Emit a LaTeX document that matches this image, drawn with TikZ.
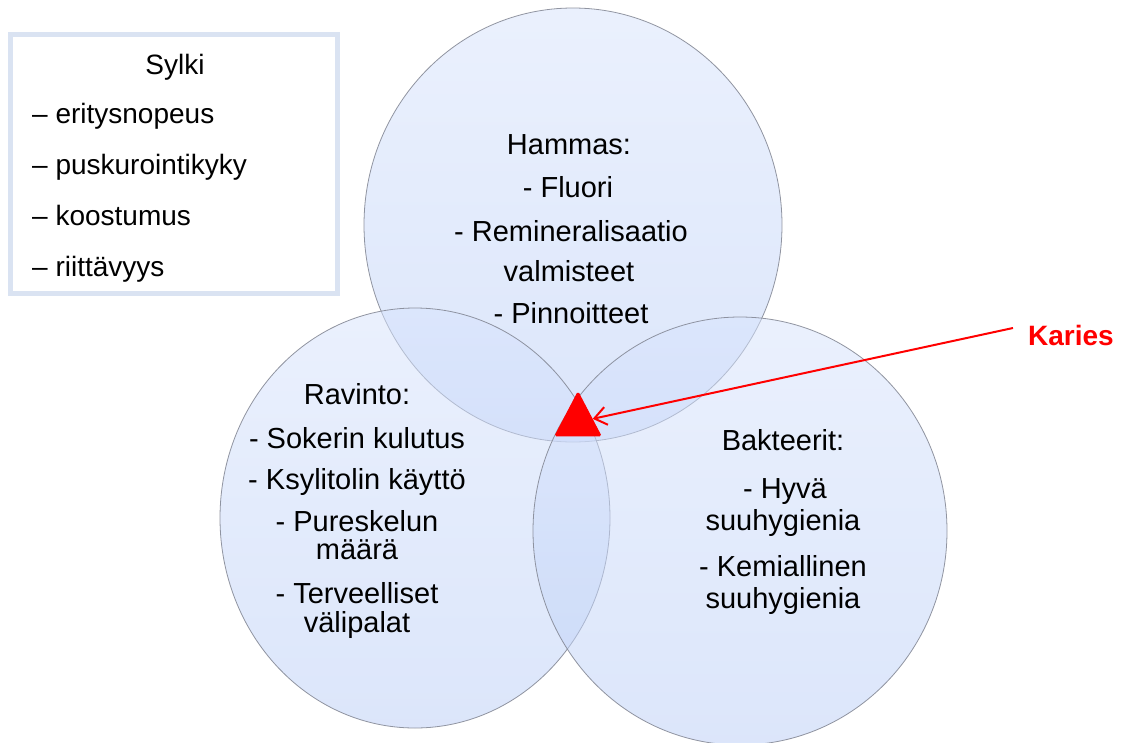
\documentclass[tikz,border=0pt]{standalone}
\usepackage{fontspec}
\setmainfont{Liberation Sans}
\usetikzlibrary{shapes.geometric,arrows.meta}
\definecolor{vennTop}{RGB}{216,228,253}
\definecolor{vennBot}{RGB}{188,207,247}
\definecolor{vennLine}{RGB}{128,132,145}
\definecolor{boxLine}{RGB}{218,227,242}
\definecolor{kred}{RGB}{255,0,0}
\tikzset{
  venn/.style={ellipse, draw=vennLine, line width=0.8pt, top color=vennTop, bottom color=vennBot,
    fill opacity=0.52, draw opacity=0.85, inner sep=0},
  ctext/.style={anchor=base, font=\fontsize{29}{35}\selectfont, text=black, inner sep=0},
  ltext/.style={anchor=base west, font=\fontsize{28}{34}\selectfont, text=black, inner sep=0},
  legendbox/.style={draw=boxLine, line width=5pt, fill=white},
}
\begin{document}
\begin{tikzpicture}[x=1pt,y=-1pt]
\useasboundingbox[fill=white] (0,0) rectangle (1126,742);

% legend box
\node[legendbox, minimum width=327pt, minimum height=259pt, inner sep=0] (legend) at (174,164) {};
\node[ctext, font=\fontsize{28}{34}\selectfont] (sylki) at (175,74) {Sylki};
\node[ltext] (s1) at (32,123) {– eritysnopeus};
\node[ltext] (s2) at (32,174) {– puskurointikyky};
\node[ltext] (s3) at (32,225) {– koostumus};
\node[ltext] (s4) at (32,276) {– riittävyys};

% circles
\node[venn, minimum width=418pt, minimum height=434pt] (hammas) at (573,225) {};
\node[venn, minimum width=390pt, minimum height=420pt] (ravinto) at (415,518) {};
\node[venn, minimum width=414pt, minimum height=428pt] (bakteerit) at (740,531) {};

% top circle text
\node[ctext] (h0) at (569,154) {Hammas:};
\node[ctext] (h1) at (568,197) {- Fluori};
\node[ctext] (h2) at (571,241) {- Remineralisaatio};
\node[ctext] (h3) at (569,281) {valmisteet};
\node[ctext] (h4) at (571,323) {- Pinnoitteet};

% left circle text
\node[ctext] (r0) at (357,404) {Ravinto:};
\node[ctext] (r1) at (357,448) {- Sokerin kulutus};
\node[ctext] (r2) at (357,489) {- Ksylitolin käyttö};
\node[ctext] (r3) at (357,531) {- Pureskelun};
\node[ctext] (r4) at (357,559) {määrä};
\node[ctext] (r5) at (357,603) {- Terveelliset};
\node[ctext] (r6) at (357,632) {välipalat};

% right circle text
\node[ctext] (b0) at (783,450) {Bakteerit:};
\node[ctext] (b1) at (785,498) {- Hyvä};
\node[ctext] (b2) at (783,530) {suuhygienia};
\node[ctext] (b3) at (783,576) {- Kemiallinen};
\node[ctext] (b4) at (783,608) {suuhygienia};

% caries triangle
\node[isosceles triangle, shape border rotate=90, isosceles triangle stretches,
  minimum width=46pt, minimum height=44pt, inner sep=0, fill=kred, draw=kred,
  line width=1pt, rounded corners=1.5pt] (tri) at (578,422) {};

% Karies label and arrow
\node[anchor=base, font=\fontsize{28}{34}\selectfont\bfseries, text=kred, inner sep=0] (karies) at (1071,345) {Karies};
\coordinate (kstart) at ([xshift=-15pt,yshift=7pt]karies.west);
\draw[kred, line width=2pt, -{Straight Barb[length=12pt,width=18pt,line width=2pt]}] (kstart) -- (tri);
\end{tikzpicture}
\end{document}
